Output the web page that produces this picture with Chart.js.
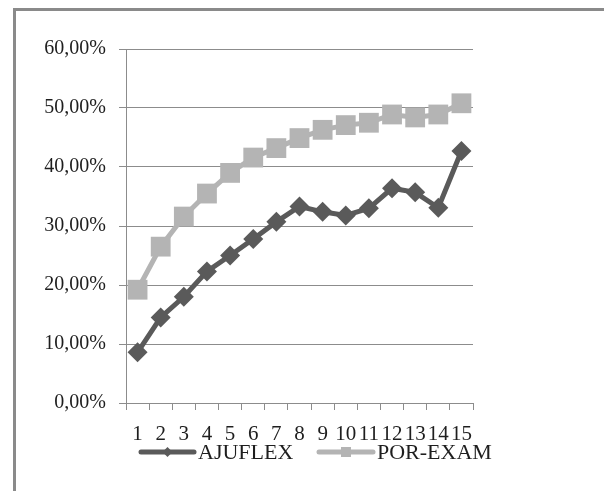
<!DOCTYPE html>
<html><head><meta charset="utf-8">
<script src="https://cdn.jsdelivr.net/npm/chart.js@4"></script>
<style>
html,body{margin:0;padding:0;background:#fff;overflow:hidden}
#wrap{position:absolute;left:0;top:0;width:604px;height:491px}
#frame{position:absolute;left:13px;top:8px;width:620px;height:500px;border-left:3px solid #8a8a8a;border-top:3px solid #8a8a8a;box-sizing:border-box}
canvas{position:absolute;left:0;top:0}
</style></head>
<body><div id="wrap"><div id="frame"></div><canvas id="c" width="604" height="491"></canvas></div>
<script>
const categories = ['1','2','3','4','5','6','7','8','9','10','11','12','13','14','15'];
const ajuflex = [0.086,0.145,0.180,0.223,0.250,0.278,0.307,0.333,0.324,0.318,0.330,0.364,0.357,0.331,0.427];
const porExam = [0.192,0.265,0.316,0.355,0.390,0.416,0.432,0.449,0.463,0.471,0.475,0.489,0.484,0.489,0.508];
const seriesNames = ['AJUFLEX','POR-EXAM'];
const yTicks = [0,0.1,0.2,0.3,0.4,0.5,0.6];

const DARK = '#5a5a5a', LIGHT = '#b4b4b4';
const FONT = "'Liberation Serif','Times New Roman',serif";

const legendPlugin = {
  id: 'customLegend',
  afterDraw(chart) {
    const ctx = chart.ctx;
    const ds = chart.data.datasets;
    const items = [
      {x0:141, x1:194, tx:198, ds:ds[0]},
      {x0:319, x1:373, tx:377, ds:ds[1]}
    ];
    const y = 452;
    ctx.save();
    items.forEach(it => {
      ctx.strokeStyle = it.ds.borderColor;
      ctx.lineWidth = 5;
      ctx.lineCap = 'round';
      ctx.beginPath(); ctx.moveTo(it.x0, y); ctx.lineTo(it.x1, y); ctx.stroke();
      const cx = (it.x0 + it.x1) / 2;
      ctx.fillStyle = it.ds.borderColor;
      ctx.beginPath();
      if (it.ds.pointStyle === 'rectRot') {
        ctx.moveTo(cx, y-5); ctx.lineTo(cx+5, y); ctx.lineTo(cx, y+5); ctx.lineTo(cx-5, y);
      } else {
        ctx.rect(cx-5, y-5, 10, 10);
      }
      ctx.closePath(); ctx.fill();
      ctx.fillStyle = '#1e1e1e';
      ctx.font = '22px ' + FONT;
      ctx.textBaseline = 'middle';
      ctx.textAlign = 'left';
      ctx.fillText(it.ds.label, it.tx, y+1);
    });
    ctx.restore();
  }
};

new Chart(document.getElementById('c'), {
  type: 'line',
  data: {
    labels: categories,
    datasets: [
      {label: seriesNames[0], data: ajuflex, borderColor: DARK, backgroundColor: DARK,
       borderWidth: 5, pointStyle: 'rectRot', pointRadius: 10, pointBorderWidth: 0,
       pointBackgroundColor: DARK, tension: 0, order: 1},
      {label: seriesNames[1], data: porExam, borderColor: LIGHT, backgroundColor: LIGHT,
       borderWidth: 5, pointStyle: 'rect', pointRadius: 14, pointBorderWidth: 0,
       pointBackgroundColor: LIGHT, tension: 0, order: 2}
    ]
  },
  options: {
    responsive: false,
    animation: false,
    events: [],
    layout: {padding: {left: 0, right: 131, top: 49, bottom: 0}},
    plugins: {legend: {display: false}, tooltip: {enabled: false}},
    scales: {
      x: {
        offset: true,
        grid: {offset: true, drawOnChartArea: false, drawTicks: true, tickLength: 7, color: '#8c8c8c'},
        border: {display: true, color: '#8c8c8c', width: 1},
        ticks: {autoSkip: false, maxRotation: 0, minRotation: 0, padding: 12, color: '#1e1e1e',
                font: {family: FONT, size: 21}},
        afterFit(s) { s.height = 491 - 403; }
      },
      y: {
        min: 0, max: 0.6,
        afterBuildTicks(s) { s.ticks = yTicks.map(v => ({value: v})); },
        grid: {color: '#8c8c8c', lineWidth: 1, drawTicks: true, tickLength: 7},
        border: {display: true, color: '#8c8c8c', width: 1},
        ticks: {padding: 13, color: '#1e1e1e', font: {family: FONT, size: 20},
                callback: v => (v*100).toFixed(2).replace('.', ',') + '%'},
        afterFit(s) { s.width = 126; }
      }
    }
  },
  plugins: [legendPlugin]
});
</script></body></html>
